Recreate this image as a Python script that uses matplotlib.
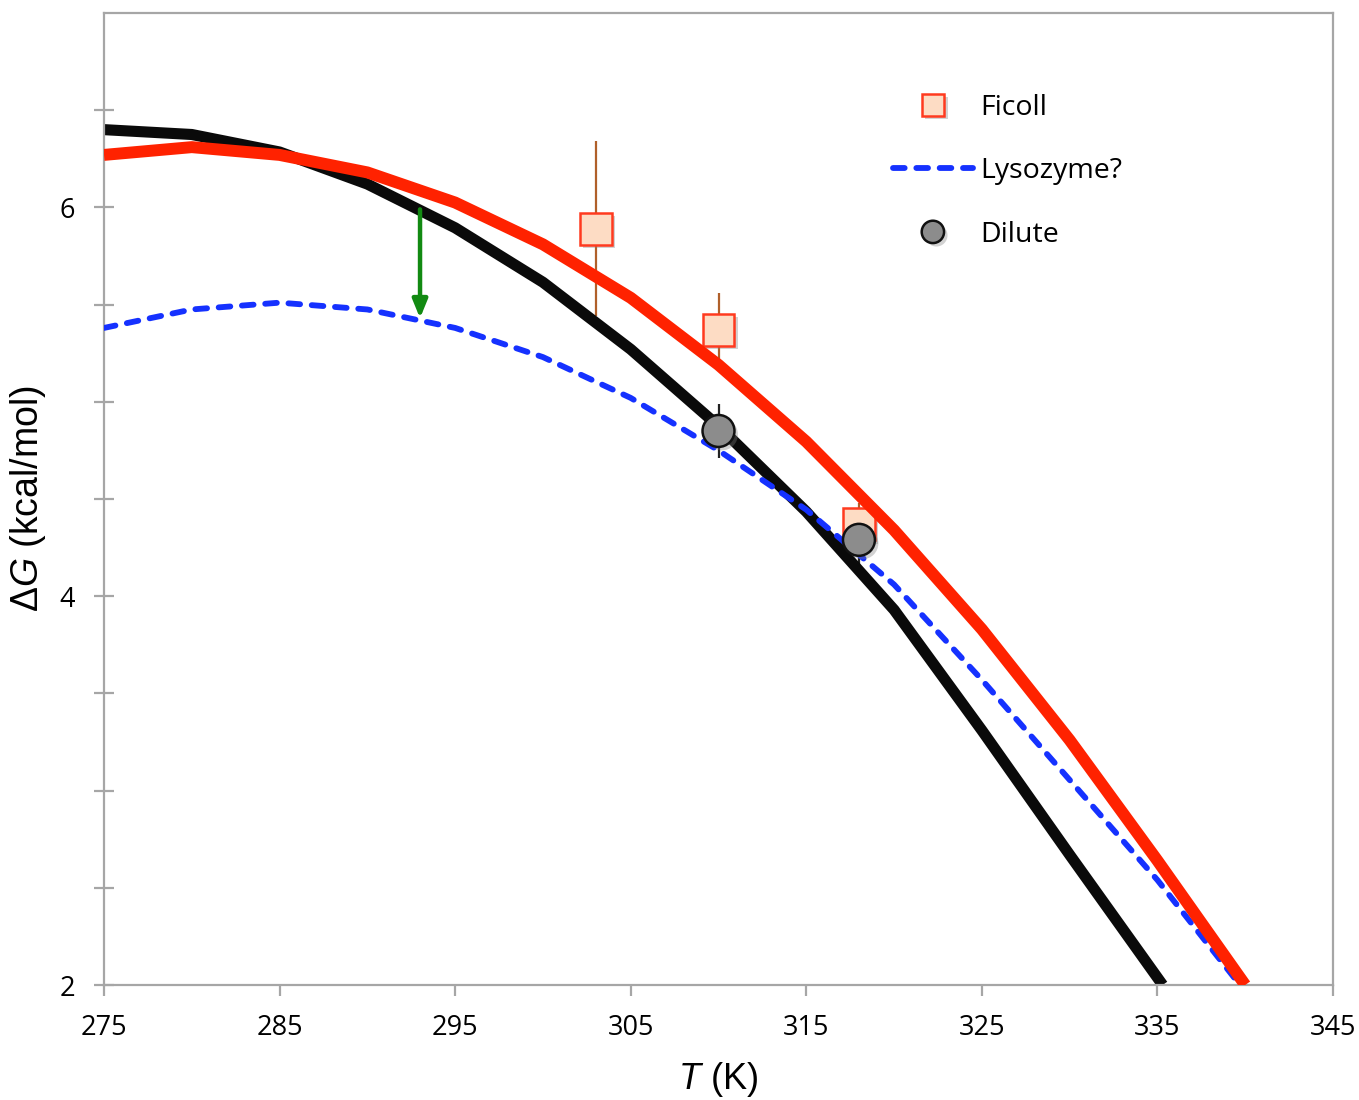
import matplotlib
matplotlib.use("Agg")
import matplotlib.pyplot as plt
import matplotlib.patheffects as pe

# curves, sampled every 5 K
T_curve = [275, 280, 285, 290, 295, 300, 305, 310, 315, 320, 325, 330, 335, 340]
black_T = [275, 280, 285, 290, 295, 300, 305, 310, 315, 320, 325, 330, 335.3]
black_G = [6.40, 6.375, 6.285, 6.12, 5.895, 5.615, 5.27, 4.875, 4.435, 3.93, 3.31, 2.67, 2.0]
red_G = [6.27, 6.31, 6.27, 6.18, 6.025, 5.81, 5.535, 5.19, 4.795, 4.34, 3.83, 3.26, 2.64, 2.0]
blue_T = [275, 280, 285, 290, 295, 300, 305, 310, 315, 320, 325, 330, 335, 339.7]
blue_G = [5.38, 5.475, 5.51, 5.475, 5.38, 5.23, 5.02, 4.75, 4.445, 4.06, 3.57, 3.055, 2.54, 2.0]

# measured points
ficoll_T = [303, 310, 318]
ficoll_G = [5.89, 5.37, 4.37]
ficoll_err = [0.45, 0.19, 0.11]
dilute_T = [310, 318]
dilute_G = [4.85, 4.29]
dilute_err = [0.14, 0.15]

arrow_T = 293
arrow_from, arrow_to = 5.99, 5.43

plt.rcParams['font.family'] = ['Open Sans', 'DejaVu Sans']
plt.rcParams['mathtext.fontset'] = 'custom'
plt.rcParams['mathtext.rm'] = 'Liberation Sans'
plt.rcParams['mathtext.it'] = 'Liberation Sans:italic'

fig = plt.figure(figsize=(13.59, 11), dpi=100)
ax = fig.add_axes([104/1359, 1 - 985/1100, (1333-104)/1359, (985-13)/1100])

shadow = [pe.SimplePatchShadow(offset=(2.5, -2.5), shadow_rgbFace='gray', alpha=0.35), pe.Normal()]

ax.errorbar(ficoll_T, ficoll_G, yerr=ficoll_err, fmt='none', ecolor='#b0602a', elinewidth=1.6, capsize=0, zorder=1)
ax.errorbar(dilute_T, dilute_G, yerr=dilute_err, fmt='none', ecolor='#222222', elinewidth=1.6, capsize=0, zorder=1)

ax.plot(black_T, black_G, color='#0a0a0a', lw=8, solid_capstyle='butt', zorder=2)
lys, = ax.plot(blue_T, blue_G, color='#1531ff', lw=4.2, dashes=(2, 2), dash_capstyle='round', zorder=3,
               label='Lysozyme?')
fic, = ax.plot(ficoll_T, ficoll_G, 's', ms=23, mfc='#fddcc4', mec='#ff3a1f', mew=1.8, zorder=4,
               path_effects=shadow, label='Ficoll')
ax.plot(T_curve, red_G, color='#ff2200', lw=8.6, solid_capstyle='butt', zorder=5)
dil, = ax.plot(dilute_T, dilute_G, 'o', ms=23, mfc='#8c8c8c', mec='#111111', mew=1.8, zorder=6,
               path_effects=shadow, label='Dilute')

ax.annotate('', xy=(arrow_T, arrow_to), xytext=(arrow_T, arrow_from),
            arrowprops=dict(arrowstyle='-|>,head_width=0.45,head_length=1.1', color='#128a12', lw=3.2,
                            shrinkA=0, shrinkB=0), zorder=7)

ax.set_xlim(275, 345)
ax.set_ylim(2, 7)
ax.set_xticks(range(275, 346, 10))
ax.set_yticks([2 + 0.5*i for i in range(10)])
ax.set_yticklabels(['2', '', '', '', '4', '', '', '', '6', ''])

for s in ax.spines.values():
    s.set_color('#a6a6a6')
    s.set_linewidth(1.6)
ax.tick_params(axis='x', direction='out', length=8, width=1.6, color='#a6a6a6', labelsize=19.5, pad=13)
ax.tick_params(axis='y', direction='inout', length=14, width=1.6, color='#a6a6a6', labelsize=19.5, pad=14)

ax.set_xlabel(r'$T$ (K)', fontsize=26, family='Liberation Sans', labelpad=13)
ax.set_ylabel(r'$\Delta G$ (kcal/mol)', fontsize=27, family='Liberation Sans', labelpad=8)

ax.legend(handles=[fic, lys, dil], loc='upper left', bbox_to_anchor=(0.642, 0.917), frameon=False,
          fontsize=20.5, markerscale=0.7, handlelength=2.8, handletextpad=0.28, labelspacing=1.25,
          borderpad=0, borderaxespad=0)

fig.savefig('out.png', dpi=100)
